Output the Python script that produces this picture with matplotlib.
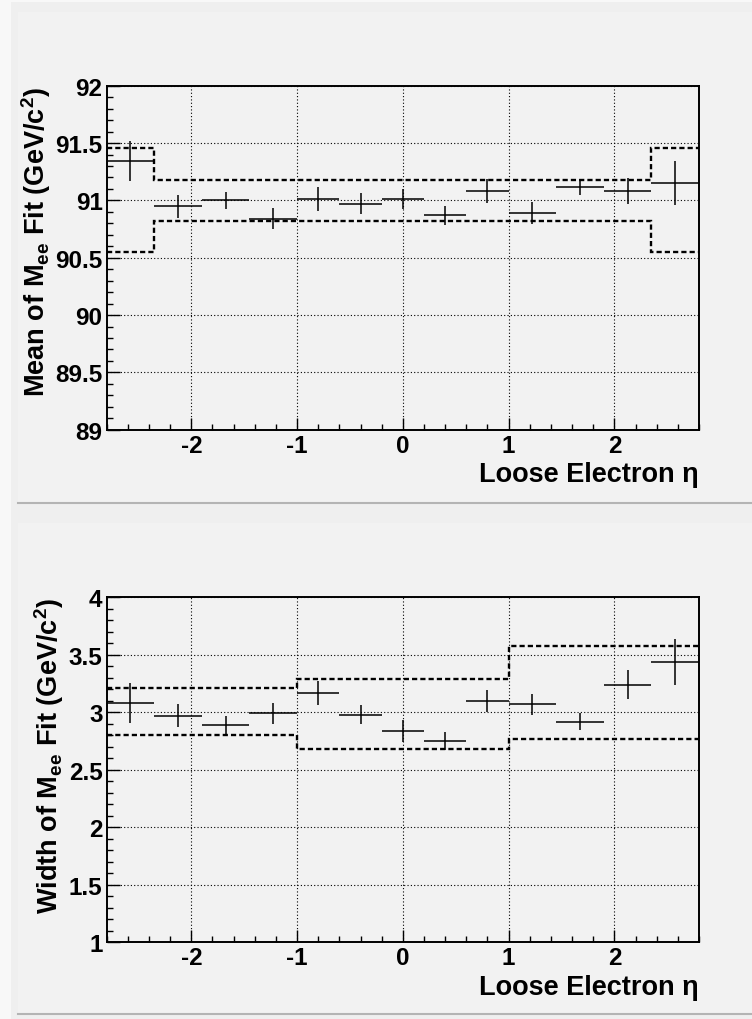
import matplotlib
matplotlib.use("Agg")
import matplotlib.pyplot as plt
from matplotlib.patches import Rectangle
from matplotlib.lines import Line2D
from matplotlib.ticker import MultipleLocator, FuncFormatter
import numpy as np

# eta binning of the loose electron
eta_edges = [-2.8, -2.35, -1.9, -1.45, -1.0, -0.6, -0.2, 0.2, 0.6, 1.0, 1.45, 1.9, 2.35, 2.8]

# fitted Z peak mean per eta bin
mean_fit = [91.34, 90.95, 91.00, 90.84, 91.01, 90.97, 91.01, 90.87, 91.08, 90.89, 91.12, 91.08, 91.15]
mean_err = [0.175, 0.10, 0.075, 0.09, 0.105, 0.09, 0.085, 0.085, 0.105, 0.095, 0.07, 0.115, 0.19]

# fitted Z peak width per eta bin
width_fit = [3.08, 2.97, 2.89, 2.99, 3.17, 2.98, 2.84, 2.75, 3.10, 3.07, 2.92, 3.24, 3.44]
width_err = [0.175, 0.10, 0.075, 0.09, 0.105, 0.085, 0.095, 0.08, 0.095, 0.09, 0.07, 0.125, 0.20]

# tolerance bands (dashed)
mean_band_edges = [-2.8, -2.35, 2.35, 2.8]
mean_band_hi = [91.46, 91.18, 91.46]
mean_band_lo = [90.55, 90.82, 90.55]

width_band_edges = [-2.8, -1.0, 1.0, 2.8]
width_band_hi = [3.21, 3.29, 3.575]
width_band_lo = [2.80, 2.68, 2.77]

plt.rcParams['font.family'] = ['Liberation Sans', 'DejaVu Sans']
plt.rcParams['font.weight'] = 'bold'
plt.rcParams['axes.labelweight'] = 'bold'
plt.rcParams['mathtext.fontset'] = 'custom'
plt.rcParams['mathtext.rm'] = 'Liberation Sans:bold'
plt.rcParams['mathtext.it'] = 'Liberation Sans:bold'
plt.rcParams['mathtext.bf'] = 'Liberation Sans:bold'
plt.rcParams['mathtext.default'] = 'rm'

W, H = 752, 1020
fig = plt.figure(figsize=(W / 100, H / 100), dpi=100, facecolor='#f8f8f8')


def fx(px):
    return px / W


def fy(py):
    return 1 - py / H


# canvas and the two pads
fig.patches.append(Rectangle((fx(11), 0), 1, fy(3), transform=fig.transFigure,
                             facecolor='#efefef', edgecolor='none', zorder=-3))
for top, bot in [(13, 504), (524, 1015)]:
    fig.patches.append(Rectangle((fx(18), fy(bot)), 1, fy(top) - fy(bot),
                                 transform=fig.transFigure, facecolor='#f2f2f2',
                                 edgecolor='none', zorder=-2))
    fig.lines.append(Line2D([fx(18), 1], [fy(bot), fy(bot)], transform=fig.transFigure,
                            color='#b4b4b4', lw=1.5, zorder=-1))

edges = np.array(eta_edges)
centers = 0.5 * (edges[1:] + edges[:-1])
half = 0.5 * (edges[1:] - edges[:-1])


def draw_panel(rect, vals, errs, band_edges, band_hi, band_lo, ylim, ylabel):
    ax = fig.add_axes(rect)
    ax.set_facecolor('#f2f2f2')
    ax.set_xlim(-2.8, 2.8)
    ax.set_ylim(*ylim)

    ax.grid(True, which='major', color='black', linestyle=(0, (1, 2)), lw=0.8)
    ax.set_axisbelow(True)

    ax.errorbar(centers, vals, xerr=half, yerr=errs, fmt='none',
                ecolor='black', elinewidth=1.1, capsize=0, zorder=3)

    dash = (0, (2.2, 1.3))
    ax.stairs(band_hi, band_edges, baseline=None, color='black', lw=1.7,
              linestyle=dash, zorder=4)
    ax.stairs(band_lo, band_edges, baseline=None, color='black', lw=1.7,
              linestyle=dash, zorder=4)

    ax.xaxis.set_major_locator(MultipleLocator(1))
    ax.xaxis.set_minor_locator(MultipleLocator(0.2))
    ax.yaxis.set_major_locator(MultipleLocator(0.5))
    ax.yaxis.set_minor_locator(MultipleLocator(0.1))
    ax.yaxis.set_major_formatter(FuncFormatter(lambda v, p: f"{v:g}"))
    ax.xaxis.set_major_formatter(FuncFormatter(lambda v, p: f"{v:g}"))

    ax.tick_params(which='both', direction='in', top=False, right=False,
                   labelsize=17.5, width=1)
    ax.tick_params(which='major', length=9)
    ax.tick_params(which='minor', length=4.5)
    ax.tick_params(axis='x', pad=3)
    ax.tick_params(axis='y', pad=3)
    for lbl in ax.get_xticklabels() + ax.get_yticklabels():
        lbl.set_fontweight('bold')

    for s in ax.spines.values():
        s.set_linewidth(1.4)

    ax.set_xlabel("Loose Electron η", fontsize=19.5, fontweight='bold',
                  loc='right', labelpad=3)
    ax.set_ylabel(ylabel, fontsize=19.5, fontweight='bold', loc='top', labelpad=2)
    return ax


draw_panel([fx(106.7), fy(430.7), fx(699) - fx(106.7), fy(86.7) - fy(430.7)],
           mean_fit, mean_err, mean_band_edges, mean_band_hi, mean_band_lo,
           (89, 92), r"Mean of M$_{ee}$ Fit (GeV/c$^{2}$)")

draw_panel([fx(106.7), fy(943.3), fx(699) - fx(106.7), fy(598.3) - fy(943.3)],
           width_fit, width_err, width_band_edges, width_band_hi, width_band_lo,
           (1, 4), r"Width of M$_{ee}$ Fit (GeV/c$^{2}$)")

fig.savefig("out.png", dpi=100, facecolor=fig.get_facecolor())
